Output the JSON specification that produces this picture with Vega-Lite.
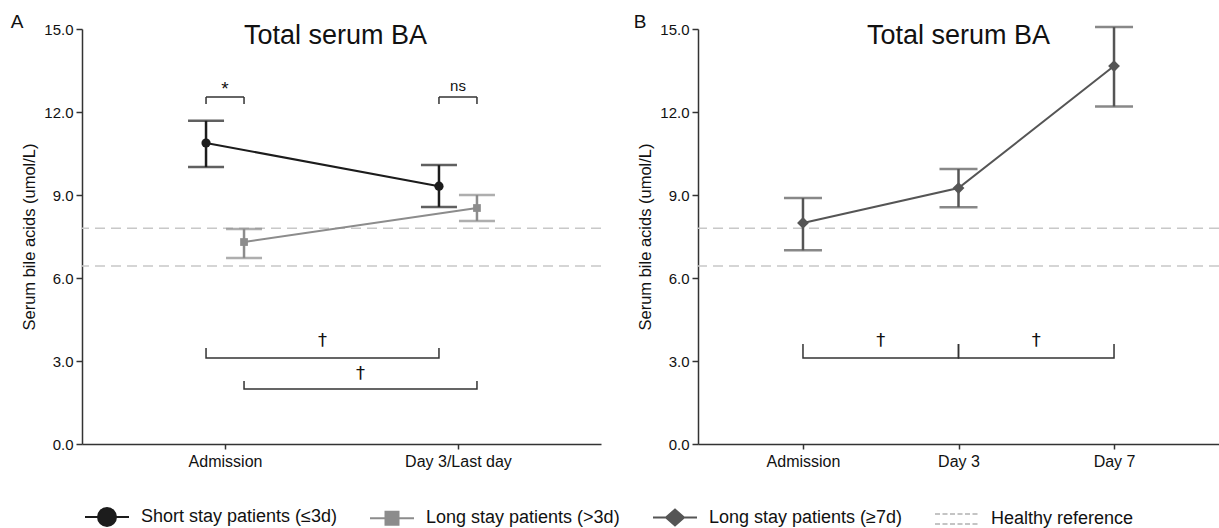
{
  "$schema": "https://vega.github.io/schema/vega-lite/v6.json",
  "padding": {"left": 10, "top": 12, "right": 0, "bottom": 0},
  "config": {
    "font": "Liberation Sans",
    "view": {"stroke": null},
    "axis": {"grid": false, "domainColor": "#333333", "tickColor": "#333333", "domainWidth": 1.5, "tickWidth": 1.5, "labelColor": "#111111", "titleColor": "#111111", "labelFont": "Liberation Sans", "titleFont": "Liberation Sans", "titleFontWeight": "normal"},
    "axisY": {"labelFontSize": 15, "titleFontSize": 16.5, "tickSize": 6, "labelPadding": 3, "titlePadding": 6},
    "axisX": {"labelFontSize": 16, "tickSize": 5, "labelPadding": 4},
    "text": {"font": "Liberation Sans"},
    "title": {"font": "Liberation Sans"}
  },
  "datasets": {
    "a": [
      {"t": 0, "series": "Short stay patients (≤3d)", "grp": "Short", "mean": 10.88, "lo": 10.01, "hi": 11.68},
      {"t": 1, "series": "Short stay patients (≤3d)", "grp": "Short", "mean": 9.32, "lo": 8.57, "hi": 10.08},
      {"t": 0, "series": "Long stay patients (>3d)", "grp": "Long", "mean": 7.30, "lo": 6.72, "hi": 7.77},
      {"t": 1, "series": "Long stay patients (>3d)", "grp": "Long", "mean": 8.53, "lo": 8.06, "hi": 9.00}
    ],
    "b": [
      {"t": 0, "series": "Long stay patients (≥7d)", "mean": 7.99, "lo": 7.00, "hi": 8.89},
      {"t": 1, "series": "Long stay patients (≥7d)", "mean": 9.25, "lo": 8.56, "hi": 9.94},
      {"t": 2, "series": "Long stay patients (≥7d)", "mean": 13.66, "lo": 12.20, "hi": 15.07}
    ],
    "ref": [{"ref": 7.80}, {"ref": 6.43}],
    "aBrackets": [
      {"id": "starL", "k": 1, "t": 0, "grp": "Short", "v": 12.29},
      {"id": "starL", "k": 2, "t": 0, "grp": "Short", "v": 12.54},
      {"id": "nsL", "k": 1, "t": 1, "grp": "Short", "v": 12.29},
      {"id": "nsL", "k": 2, "t": 1, "grp": "Short", "v": 12.54},
      {"id": "starR", "k": 1, "t": 0, "grp": "Long", "v": 12.29},
      {"id": "starR", "k": 2, "t": 0, "grp": "Long", "v": 12.54},
      {"id": "nsR", "k": 1, "t": 1, "grp": "Long", "v": 12.29},
      {"id": "nsR", "k": 2, "t": 1, "grp": "Long", "v": 12.54},
      {"id": "d1", "k": 1, "t": 0, "grp": "Short", "v": 3.47},
      {"id": "d1", "k": 2, "t": 0, "grp": "Short", "v": 3.11},
      {"id": "d1", "k": 3, "t": 1, "grp": "Short", "v": 3.11},
      {"id": "d1", "k": 4, "t": 1, "grp": "Short", "v": 3.47},
      {"id": "d2", "k": 1, "t": 0, "grp": "Long", "v": 2.28},
      {"id": "d2", "k": 2, "t": 0, "grp": "Long", "v": 1.99},
      {"id": "d2", "k": 3, "t": 1, "grp": "Long", "v": 1.99},
      {"id": "d2", "k": 4, "t": 1, "grp": "Long", "v": 2.28}
    ],
    "aBars": [{"t": 0, "v": 12.54}, {"t": 1, "v": 12.54}],
    "aDaggers": [{"t": 0.5, "grp": "Short", "v": 3.54, "txt": "†"}, {"t": 0.5, "grp": "Long", "v": 2.36, "txt": "†"}],
    "bBrackets": [
      {"id": "b1", "k": 1, "t": 0, "v": 3.61},
      {"id": "b1", "k": 2, "t": 0, "v": 3.11},
      {"id": "b1", "k": 3, "t": 1, "v": 3.11},
      {"id": "b1", "k": 4, "t": 1, "v": 3.61},
      {"id": "b2", "k": 1, "t": 1, "v": 3.61},
      {"id": "b2", "k": 2, "t": 1, "v": 3.11},
      {"id": "b2", "k": 3, "t": 2, "v": 3.11},
      {"id": "b2", "k": 4, "t": 2, "v": 3.61}
    ],
    "keys": [
      {"series": "Short stay patients (≤3d)"},
      {"series": "Long stay patients (>3d)"},
      {"series": "Long stay patients (≥7d)"},
      {"series": "Healthy reference"}
    ]
  },
  "spacing": 31,
  "hconcat": [
    {
      "width": 519,
      "height": 415,
      "title": {"text": "A", "anchor": "start", "frame": "bounds", "fontSize": 19, "fontWeight": "normal", "color": "#111111", "baseline": "alphabetic", "offset": -25, "dx": -11},
      "encoding": {
        "x": {"field": "t", "type": "quantitative", "scale": {"domain": [-0.614, 1.614], "nice": false, "zero": false},
          "axis": {"title": null, "values": [0, 1], "labelExpr": "datum.value == 0 ? 'Admission' : 'Day 3/Last day'"}}
      },
      "layer": [
        {
          "data": {"name": "ref"},
          "mark": {"type": "rule", "color": "#c8c8c8", "strokeWidth": 1.5, "strokeDash": [10, 6]},
          "encoding": {
            "x": null,
            "y": {"field": "ref", "type": "quantitative", "scale": {"domain": [0, 15], "nice": false}, "title": "Serum bile acids (umol/L)",
              "axis": {"values": [0, 3, 6, 9, 12, 15], "format": ".1f"}}
          }
        },
        {
          "data": {"name": "a"},
          "transform": [{"filter": "datum.grp == 'Short'"}],
          "layer": [
            {"mark": {"type": "rule", "strokeWidth": 2.5, "xOffset": -19},
              "encoding": {"y": {"field": "lo", "type": "quantitative", "title": "Serum bile acids (umol/L)"}, "y2": {"field": "hi"}, "color": {"field": "series", "type": "nominal"}}},
            {"mark": {"type": "tick", "orient": "horizontal", "size": 36, "thickness": 2.5, "xOffset": -19},
              "encoding": {"y": {"field": "hi", "type": "quantitative", "title": "Serum bile acids (umol/L)"}, "color": {"field": "series", "type": "nominal"}}},
            {"mark": {"type": "tick", "orient": "horizontal", "size": 36, "thickness": 2.5, "xOffset": -19},
              "encoding": {"y": {"field": "lo", "type": "quantitative", "title": "Serum bile acids (umol/L)"}, "color": {"field": "series", "type": "nominal"}}},
            {"mark": {"type": "line", "strokeWidth": 2, "xOffset": -19},
              "encoding": {"y": {"field": "mean", "type": "quantitative", "title": "Serum bile acids (umol/L)"}, "color": {"field": "series", "type": "nominal"}}},
            {"mark": {"type": "point", "shape": "circle", "filled": true, "size": 85, "opacity": 1, "xOffset": -19},
              "encoding": {"y": {"field": "mean", "type": "quantitative", "title": "Serum bile acids (umol/L)"}, "color": {"field": "series", "type": "nominal"}}}
          ]
        },
        {
          "data": {"name": "a"},
          "transform": [{"filter": "datum.grp == 'Long'"}],
          "layer": [
            {"mark": {"type": "rule", "strokeWidth": 2.5, "xOffset": 19},
              "encoding": {"y": {"field": "lo", "type": "quantitative", "title": "Serum bile acids (umol/L)"}, "y2": {"field": "hi"}, "color": {"field": "series", "type": "nominal"}}},
            {"mark": {"type": "tick", "orient": "horizontal", "size": 36, "thickness": 2.5, "xOffset": 19},
              "encoding": {"y": {"field": "hi", "type": "quantitative", "title": "Serum bile acids (umol/L)"}, "color": {"field": "series", "type": "nominal"}}},
            {"mark": {"type": "tick", "orient": "horizontal", "size": 36, "thickness": 2.5, "xOffset": 19},
              "encoding": {"y": {"field": "lo", "type": "quantitative", "title": "Serum bile acids (umol/L)"}, "color": {"field": "series", "type": "nominal"}}},
            {"mark": {"type": "line", "strokeWidth": 2, "xOffset": 19},
              "encoding": {"y": {"field": "mean", "type": "quantitative", "title": "Serum bile acids (umol/L)"}, "color": {"field": "series", "type": "nominal"}}},
            {"mark": {"type": "point", "shape": "square", "filled": true, "size": 60, "opacity": 1, "xOffset": 19},
              "encoding": {"y": {"field": "mean", "type": "quantitative", "title": "Serum bile acids (umol/L)"}, "color": {"field": "series", "type": "nominal"}}}
          ]
        },
        {
          "data": {"name": "aBrackets"},
          "transform": [{"filter": "datum.grp == 'Short'"}],
          "mark": {"type": "line", "color": "#333333", "strokeWidth": 1.5, "xOffset": -19},
          "encoding": {
            "y": {"field": "v", "type": "quantitative", "title": "Serum bile acids (umol/L)"},
            "detail": {"field": "id"},
            "order": {"field": "k", "type": "quantitative"}
          }
        },
        {
          "data": {"name": "aBrackets"},
          "transform": [{"filter": "datum.grp == 'Long'"}],
          "mark": {"type": "line", "color": "#333333", "strokeWidth": 1.5, "xOffset": 19},
          "encoding": {
            "y": {"field": "v", "type": "quantitative", "title": "Serum bile acids (umol/L)"},
            "detail": {"field": "id"},
            "order": {"field": "k", "type": "quantitative"}
          }
        },
        {
          "data": {"name": "aBars"},
          "mark": {"type": "rule", "color": "#333333", "strokeWidth": 1.5, "xOffset": -19, "x2Offset": 19},
          "encoding": {
            "x2": {"field": "t"},
            "y": {"field": "v", "type": "quantitative", "title": "Serum bile acids (umol/L)"}
          }
        },
        {
          "data": {"values": [{"t": 0, "v": 12.6, "txt": "*"}]},
          "mark": {"type": "text", "fontSize": 19, "color": "#111111", "baseline": "alphabetic"},
          "encoding": {
            "y": {"field": "v", "type": "quantitative", "title": "Serum bile acids (umol/L)"},
            "text": {"field": "txt"}
          }
        },
        {
          "data": {"values": [{"t": 1, "v": 12.75, "txt": "ns"}]},
          "mark": {"type": "text", "fontSize": 15, "color": "#111111", "baseline": "alphabetic"},
          "encoding": {
            "y": {"field": "v", "type": "quantitative", "title": "Serum bile acids (umol/L)"},
            "text": {"field": "txt"}
          }
        },
        {
          "data": {"name": "aDaggers"},
          "transform": [{"filter": "datum.grp == 'Short'"}],
          "mark": {"type": "text", "fontSize": 18, "font": "DejaVu Sans", "color": "#111111", "baseline": "alphabetic", "xOffset": -19},
          "encoding": {
            "y": {"field": "v", "type": "quantitative", "title": "Serum bile acids (umol/L)"},
            "text": {"field": "txt"}
          }
        },
        {
          "data": {"name": "aDaggers"},
          "transform": [{"filter": "datum.grp == 'Long'"}],
          "mark": {"type": "text", "fontSize": 18, "font": "DejaVu Sans", "color": "#111111", "baseline": "alphabetic", "xOffset": 19},
          "encoding": {
            "y": {"field": "v", "type": "quantitative", "title": "Serum bile acids (umol/L)"},
            "text": {"field": "txt"}
          }
        },
        {
          "data": {"values": [{"t": 0.5, "v": 14.46, "txt": "Total serum BA"}]},
          "mark": {"type": "text", "fontSize": 27, "color": "#111111", "baseline": "alphabetic", "dx": -6},
          "encoding": {
            "y": {"field": "v", "type": "quantitative", "title": "Serum bile acids (umol/L)"},
            "text": {"field": "txt"}
          }
        },
        {
          "data": {"name": "keys"},
          "mark": {"type": "point", "filled": true, "opacity": 0},
          "encoding": {
            "x": null,
            "color": {"field": "series", "type": "nominal",
              "scale": {"domain": ["Short stay patients (≤3d)", "Long stay patients (>3d)", "Long stay patients (≥7d)", "Healthy reference"], "range": ["#1c1c1c", "#8c8c8c", "#555555", "#c4c4c4"]},
              "legend": {"title": null, "orient": "none", "legendX": 14, "legendY": 477, "direction": "horizontal", "columns": 4, "labelFontSize": 18, "labelLimit": 0, "labelColor": "#111111", "labelFont": "Liberation Sans", "symbolSize": 400, "labelOffset": 23, "columnPadding": 29, "symbolOpacity": 1, "symbolStrokeWidth": 2,
                "encode": {"symbols": {"update": {"stroke": {"scale": "color", "field": "value"}, "strokeWidth": {"value": 2}, "opacity": {"value": 1}}}}}},
            "shape": {"field": "series", "type": "nominal",
              "scale": {"domain": ["Short stay patients (≤3d)", "Long stay patients (>3d)", "Long stay patients (≥7d)", "Healthy reference"],
                "range": [
                  "M-2.2,0H-0.9M0.9,0H2.2M-0.9,0A0.9,0.9,0,1,1,0.9,0A0.9,0.9,0,1,1,-0.9,0Z",
                  "M-2.2,0H-0.65M0.65,0H2.2M-0.65,-0.65H0.65V0.65H-0.65Z",
                  "M-2.2,0H-0.9M0.9,0H2.2M-0.9,0L0,-0.8L0.9,0L0,0.8Z",
                  "M-2.2,-0.5H-1.7M-1.45,-0.5H-0.95M-0.7,-0.5H-0.2M0.05,-0.5H0.55M0.8,-0.5H1.3M1.55,-0.5H2.05M-2.2,0.5H-1.7M-1.45,0.5H-0.95M-0.7,0.5H-0.2M0.05,0.5H0.55M0.8,0.5H1.3M1.55,0.5H2.05"
                ]},
              "legend": {"title": null, "orient": "none", "legendX": 14, "legendY": 477, "direction": "horizontal", "columns": 4, "labelFontSize": 18, "labelLimit": 0, "labelColor": "#111111", "labelFont": "Liberation Sans", "symbolSize": 400, "labelOffset": 23, "columnPadding": 29, "symbolOpacity": 1, "symbolStrokeWidth": 2}}
          }
        }
      ]
    },
    {
      "width": 521,
      "height": 415,
      "title": {"text": "B", "anchor": "start", "frame": "bounds", "fontSize": 19, "fontWeight": "normal", "color": "#111111", "baseline": "alphabetic", "offset": -25, "dx": -4},
      "encoding": {
        "x": {"field": "t", "type": "quantitative", "scale": {"domain": [-0.675, 2.675], "nice": false, "zero": false},
          "axis": {"title": null, "values": [0, 1, 2], "labelExpr": "datum.value == 0 ? 'Admission' : datum.value == 1 ? 'Day 3' : 'Day 7'"}}
      },
      "layer": [
        {
          "data": {"name": "ref"},
          "mark": {"type": "rule", "color": "#c8c8c8", "strokeWidth": 1.5, "strokeDash": [10, 6]},
          "encoding": {
            "x": null,
            "y": {"field": "ref", "type": "quantitative", "scale": {"domain": [0, 15], "nice": false}, "title": "Serum bile acids (umol/L)",
              "axis": {"values": [0, 3, 6, 9, 12, 15], "format": ".1f"}}
          }
        },
        {
          "data": {"name": "b"},
          "layer": [
            {"mark": {"type": "rule", "strokeWidth": 2.5},
              "encoding": {"y": {"field": "lo", "type": "quantitative", "title": "Serum bile acids (umol/L)"}, "y2": {"field": "hi"}, "color": {"field": "series", "type": "nominal"}}},
            {"mark": {"type": "tick", "orient": "horizontal", "size": 38, "thickness": 2.5},
              "encoding": {"y": {"field": "hi", "type": "quantitative", "title": "Serum bile acids (umol/L)"}, "color": {"field": "series", "type": "nominal"}}},
            {"mark": {"type": "tick", "orient": "horizontal", "size": 38, "thickness": 2.5},
              "encoding": {"y": {"field": "lo", "type": "quantitative", "title": "Serum bile acids (umol/L)"}, "color": {"field": "series", "type": "nominal"}}},
            {"mark": {"type": "line", "strokeWidth": 2},
              "encoding": {"y": {"field": "mean", "type": "quantitative", "title": "Serum bile acids (umol/L)"}, "color": {"field": "series", "type": "nominal"}}},
            {"mark": {"type": "point", "shape": "diamond", "filled": true, "size": 140, "opacity": 1},
              "encoding": {"y": {"field": "mean", "type": "quantitative", "title": "Serum bile acids (umol/L)"}, "color": {"field": "series", "type": "nominal"}}}
          ]
        },
        {
          "data": {"name": "bBrackets"},
          "mark": {"type": "line", "color": "#333333", "strokeWidth": 1.5},
          "encoding": {
            "y": {"field": "v", "type": "quantitative", "title": "Serum bile acids (umol/L)"},
            "detail": {"field": "id"},
            "order": {"field": "k", "type": "quantitative"}
          }
        },
        {
          "data": {"values": [{"t": 0.5, "v": 3.54, "txt": "†"}, {"t": 1.5, "v": 3.54, "txt": "†"}]},
          "mark": {"type": "text", "fontSize": 18, "font": "DejaVu Sans", "color": "#111111", "baseline": "alphabetic"},
          "encoding": {
            "y": {"field": "v", "type": "quantitative", "title": "Serum bile acids (umol/L)"},
            "text": {"field": "txt"}
          }
        },
        {
          "data": {"values": [{"t": 1, "v": 14.46, "txt": "Total serum BA"}]},
          "mark": {"type": "text", "fontSize": 27, "color": "#111111", "baseline": "alphabetic"},
          "encoding": {
            "y": {"field": "v", "type": "quantitative", "title": "Serum bile acids (umol/L)"},
            "text": {"field": "txt"}
          }
        }
      ]
    }
  ]
}
